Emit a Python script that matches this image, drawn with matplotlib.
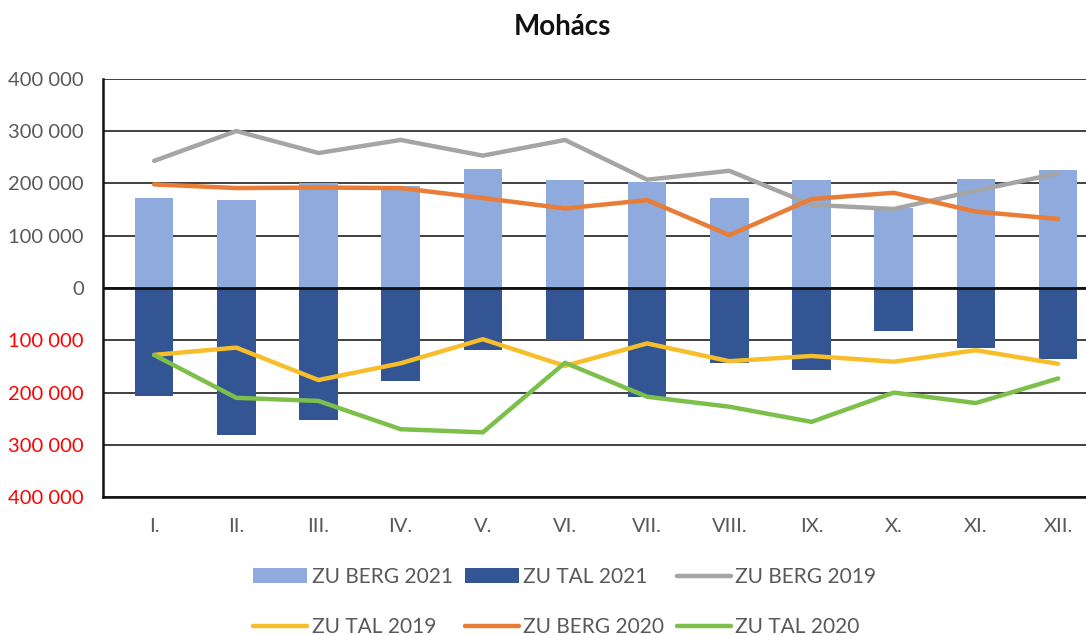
import numpy as np
import matplotlib
matplotlib.use('Agg')
from matplotlib import pyplot as plt
from matplotlib.ticker import FixedLocator, FuncFormatter

months = ['I.', 'II.', 'III.', 'IV.', 'V.', 'VI.', 'VII.', 'VIII.', 'IX.', 'X.', 'XI.', 'XII.']
berg_2021 = [172000, 169000, 200000, 194000, 228000, 206000, 203000, 172000, 206000, 152000, 209000, 226000]
tal_2021 = [-207000, -282000, -253000, -177000, -119000, -100000, -209000, -143000, -156000, -82000, -114000, -135000]
berg_2019 = [243000, 300000, 258000, 283000, 253000, 283000, 207000, 224000, 159000, 151000, 186000, 219000]
tal_2019 = [-128000, -114000, -176000, -144000, -98000, -149000, -106000, -140000, -130000, -141000, -119000, -145000]
berg_2020 = [198000, 191000, 192000, 191000, 172000, 152000, 168000, 101000, 170000, 182000, 146000, 132000]
tal_2020 = [-128000, -210000, -216000, -270000, -276000, -143000, -208000, -227000, -256000, -200000, -220000, -173000]
yticks = [-400000, -300000, -200000, -100000, 0, 100000, 200000, 300000, 400000]

plt.rcParams['font.family'] = ['Lato', 'DejaVu Sans']
txt = '#595959'

fig = plt.figure(figsize=(10.86, 6.35), dpi=100)
ax = fig.add_axes([0.095, 0.217, 0.905, 0.659])
x = np.arange(len(months))

ax.set_axisbelow(True)
ax.grid(axis='y', color='#404040', linewidth=1.4)
b1 = ax.bar(x, berg_2021, width=0.47, color='#8FAADC', label='ZU BERG 2021', zorder=2)
b2 = ax.bar(x, tal_2021, width=0.47, color='#335593', label='ZU TAL 2021', zorder=2)
ax.axhline(0, color='#111111', linewidth=2, zorder=3)
lw = 3.2
l1, = ax.plot(x, berg_2019, color='#A5A5A5', lw=lw, label='ZU BERG 2019', zorder=4, solid_capstyle='round')
l2, = ax.plot(x, tal_2019, color='#F7BE2A', lw=lw, label='ZU TAL 2019', zorder=4, solid_capstyle='round')
l3, = ax.plot(x, berg_2020, color='#E97C36', lw=lw, label='ZU BERG 2020', zorder=4, solid_capstyle='round')
l4, = ax.plot(x, tal_2020, color='#7CC04B', lw=lw, label='ZU TAL 2020', zorder=4, solid_capstyle='round')

ax.set_xlim(-0.62, 11.34)
ax.set_ylim(-400000, 400000)
ax.yaxis.set_major_locator(FixedLocator(yticks))
ax.yaxis.set_major_formatter(FuncFormatter(
    lambda v, p: '0' if v == 0 else '{:,.0f}'.format(abs(v)).replace(',', ' ')))
ax.set_xticks(x)
ax.set_xticklabels(months)
ax.tick_params(axis='both', length=0, labelsize=14.5, colors=txt)
ax.tick_params(axis='x', pad=15)
ax.tick_params(axis='y', pad=14)
for t, v in zip(ax.get_yticklabels(), yticks):
    t.set_color('#FF0000' if v < 0 else txt)

for s in ['top', 'right']:
    ax.spines[s].set_visible(False)
ax.spines['left'].set_color('#111111')
ax.spines['left'].set_linewidth(1.8)
ax.spines['bottom'].set_color('#111111')
ax.spines['bottom'].set_linewidth(1.8)

fig.text(0.518, 0.958, 'Mohács', ha='center', va='center', fontsize=20, fontweight='bold', color='#111111')

handles = [b1, l2, b2, l3, l1, l4]
leg = fig.legend(handles, [h.get_label() for h in handles], ncol=3, loc='center',
                 bbox_to_anchor=(0.52, 0.052), frameon=False, fontsize=15,
                 labelcolor=txt, handlelength=2.6, handleheight=0.7, handletextpad=0.2,
                 columnspacing=0.6, labelspacing=1.45)

fig.savefig('out.png', dpi=100)
